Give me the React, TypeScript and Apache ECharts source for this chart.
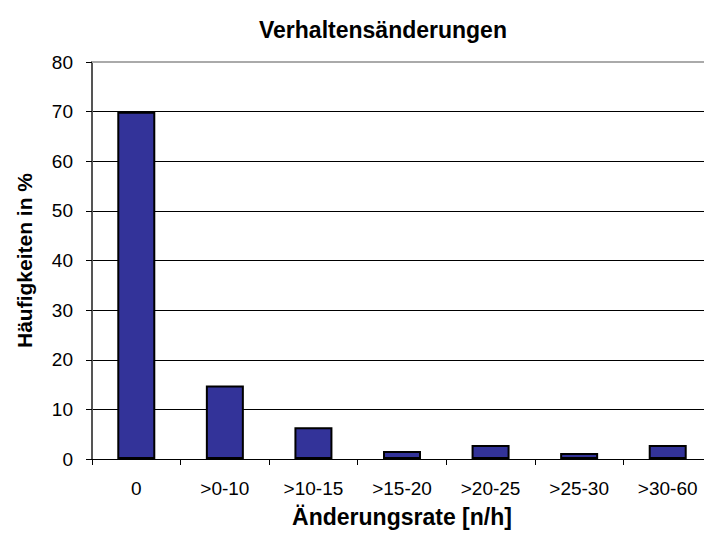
import React, { useEffect, useRef } from "react";
import * as echarts from "echarts";

const categories = ["0", ">0-10", ">10-15", ">15-20", ">20-25", ">25-30", ">30-60"];
const values = [70, 14.8, 6.4, 1.6, 2.8, 1.2, 2.8];
const titleText = "Verhaltensänderungen";
const yName = "Häufigkeiten in %";
const xName = "Änderungsrate [n/h]";

export default function App() {
  const ref = useRef<HTMLDivElement>(null);
  useEffect(() => {
    if (!ref.current) return;
    const chart = echarts.init(ref.current, null, { renderer: "svg" });
    const font = "'Liberation Sans', Arial, sans-serif";
    const narrow = "'Liberation Sans Narrow', 'Arial Narrow', 'Liberation Sans', sans-serif";
    chart.setOption({
      animation: false,
      backgroundColor: "#ffffff",
      title: {
        text: titleText,
        left: 254,
        top: 13,
        textStyle: { fontFamily: font, fontSize: 23, fontWeight: "bold", color: "#000" },
      },
      grid: { left: 92, right: 8, top: 62, bottom: 66, show: false },
      xAxis: {
        type: "category",
        data: categories,
        name: xName,
        nameLocation: "middle",
        nameGap: 46,
        nameTextStyle: { fontFamily: font, fontSize: 23, fontWeight: "bold", color: "#000" },
        axisLine: { lineStyle: { color: "#000", width: 1 } },
        axisTick: { show: true, length: 6, lineStyle: { color: "#000" } },
        axisLabel: { fontFamily: narrow, fontSize: 19, color: "#000", margin: 20 },
      },
      yAxis: {
        type: "value",
        min: 0,
        max: 80,
        interval: 10,
        name: yName,
        nameLocation: "middle",
        nameGap: 57,
        nameTextStyle: { fontFamily: font, fontSize: 21, fontWeight: "bold", color: "#000" },
        axisLine: { show: true, lineStyle: { color: "#555", width: 2 } },
        axisTick: { show: true, length: 6, lineStyle: { color: "#000" } },
        axisLabel: { fontFamily: font, fontSize: 19, color: "#000", margin: 19 },
        splitLine: { show: true, lineStyle: { color: "#000", width: 1 } },
      },
      graphic: [
        {
          type: "line",
          shape: { x1: 92, y1: 62, x2: 712, y2: 62 },
          style: { stroke: "#aaa", lineWidth: 2 },
          z: 10,
        },
      ],
      series: [
        {
          type: "bar",
          data: values,
          barWidth: 38,
          itemStyle: { color: "#333399", borderColor: "#000", borderWidth: 2 },
        },
      ],
    });
    return () => chart.dispose();
  }, []);
  return (
    <div style={{ position: "absolute", left: 0, top: 0, width: 704, height: 533, overflow: "hidden" }}>
      <div ref={ref} style={{ width: 720, height: 533 }} />
    </div>
  );
}
